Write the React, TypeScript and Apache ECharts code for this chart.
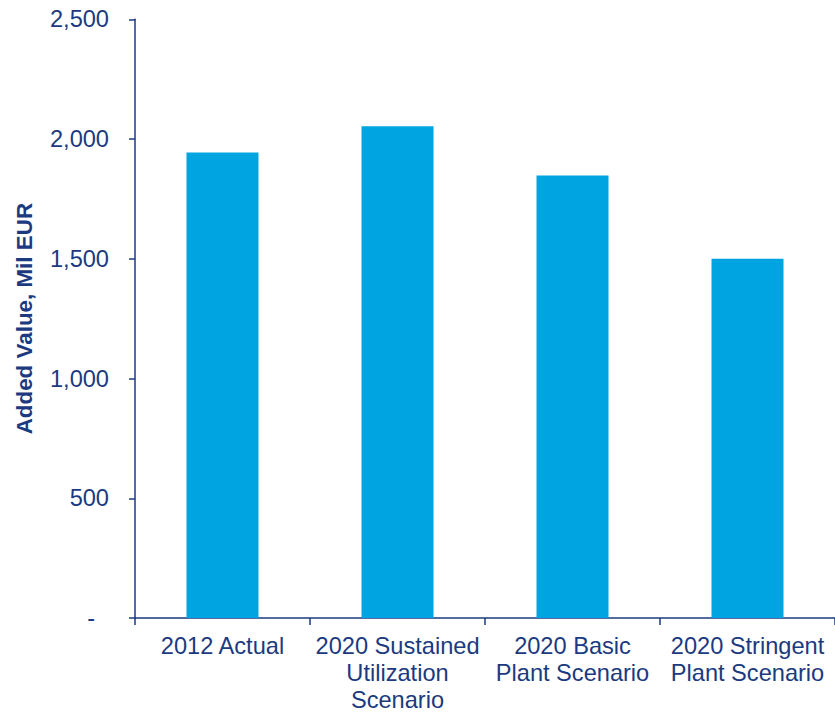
import React, { useEffect, useRef } from "react";
import * as echarts from "echarts";

const categories = [
  "2012 Actual",
  "2020 Sustained\nUtilization\nScenario",
  "2020 Basic\nPlant Scenario",
  "2020 Stringent\nPlant Scenario",
];
const values = [1944, 2053, 1848, 1500];
const yTicks = [0, 500, 1000, 1500, 2000, 2500];

const NAVY = "#1B3A80";
const BAR = "#00A4E1";
const FONT = "Liberation Sans, Arial, sans-serif";

export default function App() {
  const ref = useRef<HTMLDivElement>(null);
  useEffect(() => {
    if (!ref.current) return;
    const chart = echarts.init(ref.current, undefined, { renderer: "svg" });
    chart.setOption({
      animation: false,
      grid: { left: 135, right: -2.4, top: 19.3, bottom: 91.3, containLabel: false },
      xAxis: {
        type: "category",
        data: categories,
        axisLine: { show: true, lineStyle: { color: NAVY, width: 1.5 } },
        axisTick: { show: true, length: 7, alignWithLabel: false, lineStyle: { color: NAVY, width: 1.5 } },
        axisLabel: {
          color: NAVY,
          fontFamily: FONT,
          fontSize: 23.6,
          lineHeight: 27,
          margin: 14,
          interval: 0,
        },
      },
      yAxis: {
        type: "value",
        min: yTicks[0],
        max: yTicks[yTicks.length - 1],
        interval: 500,
        name: "Added Value, Mil EUR",
        nameLocation: "middle",
        nameGap: 100,
        nameTextStyle: {
          color: NAVY,
          fontFamily: FONT,
          fontSize: 22.4,
          fontWeight: "bold",
        },
        splitLine: { show: false },
        axisLine: { show: true, lineStyle: { color: NAVY, width: 1.5 } },
        axisTick: { show: true, length: 6, lineStyle: { color: NAVY, width: 1.5 } },
        axisLabel: {
          color: NAVY,
          fontFamily: FONT,
          fontSize: 23.6,
          margin: 26,
          formatter: (v: number) =>
            v === 0 ? "{d|-}" : v.toLocaleString("en-US"),
          rich: {
            d: { color: NAVY, fontFamily: FONT, fontSize: 23.6, padding: [0, 14, 0, 0] },
          },
        },
      },
      series: [
        {
          type: "bar",
          data: values,
          barWidth: 72,
          itemStyle: { color: BAR },
        },
      ],
    });
    return () => chart.dispose();
  }, []);
  return (
    <div
      ref={ref}
      style={{ position: "absolute", left: 0, top: 0, width: 835, height: 713 }}
    />
  );
}
